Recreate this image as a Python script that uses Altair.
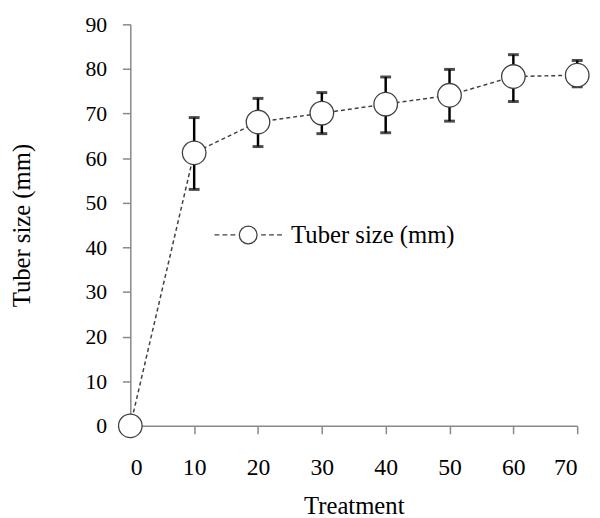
import altair as alt
import pandas as pd

treatment = [0, 10, 20, 30, 40, 50, 60, 70]
tuber_size = [0, 61.2, 68.1, 70.1, 72.1, 74.1, 78.3, 78.6]

err_treatment = [10, 20, 30, 40, 50, 60, 70]
err_high = [69.1, 73.4, 74.7, 78.2, 79.9, 83.2, 81.9]
err_low = [53.0, 62.6, 65.5, 65.7, 68.3, 72.7, 76.0]

series_name = "Tuber size (mm)"

df = pd.DataFrame({"Treatment": treatment, "Size": tuber_size, "series": series_name})
edf = pd.DataFrame({"Treatment": err_treatment, "hi": err_high, "lo": err_low})

FONT = "Liberation Serif"
LINE_COL = "#404040"

legend_path = ("M-3.8,0L-3.25,0M-2.9,0L-2.35,0M-2.0,0L-1.45,0"
               "M1.45,0L2.0,0M2.35,0L2.9,0M3.25,0L3.8,0"
               "M1,0A1,1 0 1,1 -1,0A1,1 0 1,1 1,0Z")

xs = alt.X("Treatment:Q",
           scale=alt.Scale(domain=[0, 70], nice=False),
           axis=alt.Axis(values=treatment, title="Treatment", titlePadding=15))
ys = alt.Y("Size:Q",
           scale=alt.Scale(domain=[0, 90], nice=False),
           axis=alt.Axis(values=list(range(0, 91, 10)), title="Tuber size (mm)", titlePadding=51))

line = alt.Chart(df).mark_line(strokeWidth=1.5, color=LINE_COL, strokeDash=[4, 3]).encode(x=xs, y=ys)

# legend-only layer (no rows drawn), legend built from the colour scale
legend_layer = alt.Chart(df).transform_filter("false").mark_line(strokeWidth=1.3).encode(
    x=alt.X("Treatment:Q"), y=alt.Y("Size:Q"),
    color=alt.Color("series:N", scale=alt.Scale(domain=[series_name], range=[LINE_COL]),
                    legend=alt.Legend(title=None, orient="none", legendX=107, legendY=201,
                                      padding=0, symbolType=legend_path, symbolSize=324,
                                      symbolFillColor="white", symbolStrokeColor=LINE_COL,
                                      symbolStrokeWidth=1.3, labelOffset=31,
                                      labelFont=FONT, labelFontSize=25, labelColor="black",
                                      labelLimit=400)),
)

rule = alt.Chart(edf).mark_rule(color="black", strokeWidth=2.5).encode(
    x=alt.X("Treatment:Q"), y=alt.Y("lo:Q"), y2="hi:Q")
cap_hi = alt.Chart(edf).mark_tick(color="black", orient="horizontal", size=11, thickness=3).encode(
    x=alt.X("Treatment:Q"), y=alt.Y("hi:Q"))
cap_lo = alt.Chart(edf).mark_tick(color="black", orient="horizontal", size=11, thickness=3).encode(
    x=alt.X("Treatment:Q"), y=alt.Y("lo:Q"))

points = alt.Chart(df).mark_point(filled=False, fill="white", fillOpacity=1, stroke=LINE_COL,
                                  strokeWidth=1.3, size=570, opacity=1, shape="circle").encode(
    x=alt.X("Treatment:Q"), y=alt.Y("Size:Q"))

chart = alt.layer(line, legend_layer, rule, cap_hi, cap_lo, points).properties(
    width=453, height=407,
    autosize=alt.AutoSizeParams(type="none"),
    padding={"left": 124, "top": 13, "right": 15, "bottom": 100},
).configure_view(stroke=None).configure_axis(
    grid=False, domainColor="#888888", tickColor="#888888", domainWidth=1.5, tickWidth=1.5,
    tickSize=8, labelFont=FONT, labelColor="black",
    titleFont=FONT, titleFontSize=25, titleFontWeight="normal", titleColor="black",
).configure_axisX(labelFontSize=24, labelPadding=22).configure_axisY(labelFontSize=22, labelPadding=16)

chart.save("out.html", embed_options={"renderer": "svg", "actions": False})
